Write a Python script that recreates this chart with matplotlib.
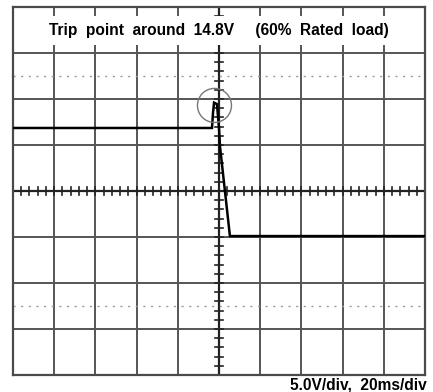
import matplotlib
matplotlib.use('Agg')
import matplotlib.pyplot as plt
from matplotlib.patches import Ellipse

plt.rcParams['font.family'] = ['Liberation Sans', 'DejaVu Sans']

# trace: time in ms (20 ms/div), level in V (5 V/div)
time_ms = [0.0, 96.6, 97.1, 97.6, 99.0, 100.0, 100.5, 105.3, 200.0]
volts = [6.85, 6.85, 8.5, 9.6, 9.45, 6.85, 4.8, -4.9, -4.9]

title = 'Trip  point  around  14.8V     (60%  Rated  load)'
scale = '5.0V/div,  20ms/div'
trip_mark = (97.8, 9.3)  # circled trip point

ms_per_div = 20
v_per_div = 5

fig = plt.figure(figsize=(4.33, 3.92), dpi=100)
ax = fig.add_axes([13 / 433, 17 / 392, 412 / 433, 368 / 392])
ax.set_xlim(0, 10 * ms_per_div)
ax.set_ylim(-4 * v_per_div, 4 * v_per_div)
ax.set_xticks([])
ax.set_yticks([])
for s in ax.spines.values():
    s.set_color('#4a4a4a')
    s.set_linewidth(1.6)

grid_c = '#555555'
for i in range(1, 10):
    lw = 1.4 if i != 5 else 1.6
    ax.axvline(i * ms_per_div, color=grid_c if i != 5 else '#222222', lw=lw, zorder=1)
for j in range(-3, 4):
    ax.axhline(j * v_per_div, color=grid_c if j != 0 else '#222222',
               lw=1.4 if j != 0 else 1.6, zorder=1)
# half-division dotted rows
for yv in (12.5, -12.5):
    ax.axhline(yv, color='#999999', lw=1.0, ls=(0, (1.5, 4)), zorder=1)

# minor graduations on the centre axes, 5 per division
for k in range(-20, 21):
    yv = k * v_per_div / 5
    ax.plot([98.2, 101.8], [yv, yv], color='#222222', lw=1.2, zorder=2)
for k in range(0, 51):
    xv = k * ms_per_div / 5
    ax.plot([xv, xv], [-0.45, 0.45], color='#222222', lw=1.2, zorder=2)

ax.plot(time_ms, volts, color='black', lw=1.8, zorder=4, solid_joinstyle='miter')
ax.add_patch(Ellipse(trip_mark, 16.5, 3.7, fill=False, ec='#777777', lw=1.0, zorder=5))

ax.text(100, 17.5, title, ha='center', va='center', fontsize=11.2, fontweight='bold',
        zorder=6, bbox=dict(facecolor='white', edgecolor='none', pad=5))
fig.text(427 / 433, 2 / 392, scale, ha='right', va='baseline', fontsize=11.2,
         fontweight='bold')

fig.savefig('out.png', dpi=100)
